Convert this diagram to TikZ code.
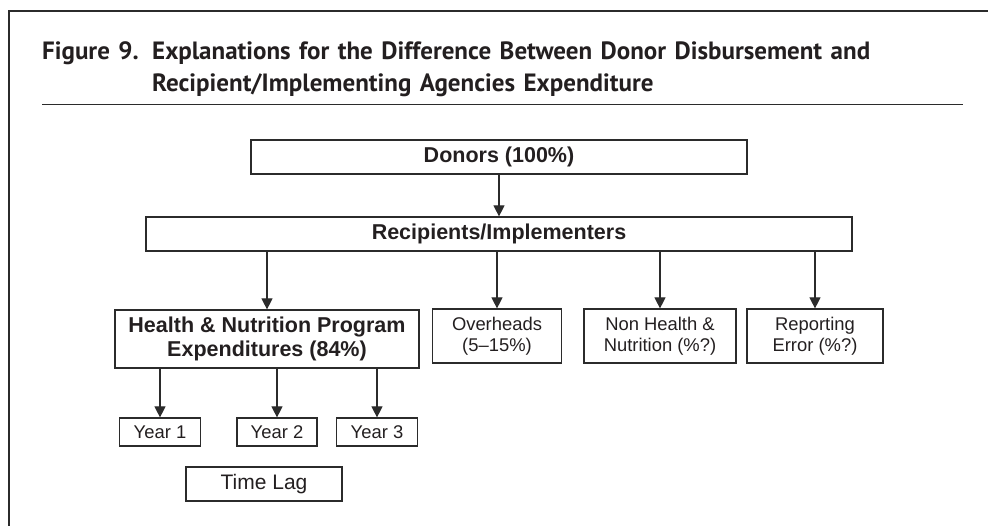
\documentclass[tikz,border=0pt]{standalone}
\usepackage{fontspec}
\setmainfont{Liberation Sans}
\newfontfamily\headfont[WordSpace=1.35]{PT Sans}
\usetikzlibrary{arrows.meta,positioning}
\definecolor{ink}{HTML}{231F20}
\definecolor{linegray}{HTML}{2B2B2B}

\begin{document}
\begin{tikzpicture}[x=1pt,y=-1pt,
	box/.style={draw=linegray, line width=1.2pt, inner sep=0pt, align=center, text=ink},
	boldbox/.style={box, font=\fontsize{21.5}{24}\selectfont\bfseries},
	plainbox/.style={box, font=\fontsize{18.4}{21}\selectfont},
	flow/.style={draw=linegray, line width=1.2pt, -{Triangle[width=11pt,length=11pt]}},
	headline/.style={anchor=base west, inner sep=0pt, text=ink, font=\headfont\bfseries\fontsize{25}{28}\selectfont}]
	\useasboundingbox (0,0) rectangle (988,526);
	% frame and title
	\draw[linegray, line width=2pt] (9,526) -- (9,11) -- (988,11);
	\node[headline] (figno) at (42,60) {Figure 9.};
	\node[headline] (titleA) at (152,60) {Explanations for the Difference Between Donor Disbursement and};
	\node[headline] (titleB) at (152,92) {Recipient/Implementing Agencies Expenditure};
	\draw[linegray, line width=1pt] (42,105) -- (963,105);
	% boxes
	\node[boldbox, minimum width=496pt, minimum height=34pt] (donors) at (499,157) {Donors (100\%)};
	\node[boldbox, minimum width=706pt, minimum height=34pt] (recip) at (499,234) {Recipients/Implementers};
	\node[boldbox, minimum width=304pt, minimum height=58pt] (health) at (267,339) {Health \& Nutrition Program\\Expenditures (84\%)};
	\node[plainbox, minimum width=129pt, minimum height=54pt] (overhead) at (497,336) {Overheads\\(5--15\%)};
	\node[plainbox, minimum width=152pt, minimum height=54pt] (nonhealth) at (660,336) {Non Health \&\\Nutrition (\%?)};
	\node[plainbox, minimum width=136pt, minimum height=54pt] (reporting) at (815,336) {Reporting\\Error (\%?)};
	\node[plainbox, minimum width=81pt, minimum height=28pt] (year1) at (160,432) {Year 1};
	\node[plainbox, minimum width=80pt, minimum height=28pt] (year2) at (277,432) {Year 2};
	\node[plainbox, minimum width=81pt, minimum height=28pt] (year3) at (377,432) {Year 3};
	\node[box, font=\fontsize{21}{24}\selectfont, minimum width=156pt, minimum height=34pt] (timelag) at (264,484) {Time Lag};
	% arrows
	\draw[flow] (donors) -- (recip);
	\foreach \n in {health,overhead,nonhealth,reporting}
		\draw[flow] (recip.south -| \n) -- (\n.north);
	\foreach \n in {year1,year2,year3}
		\draw[flow] (health.south -| \n) -- (\n.north);
\end{tikzpicture}
\end{document}
